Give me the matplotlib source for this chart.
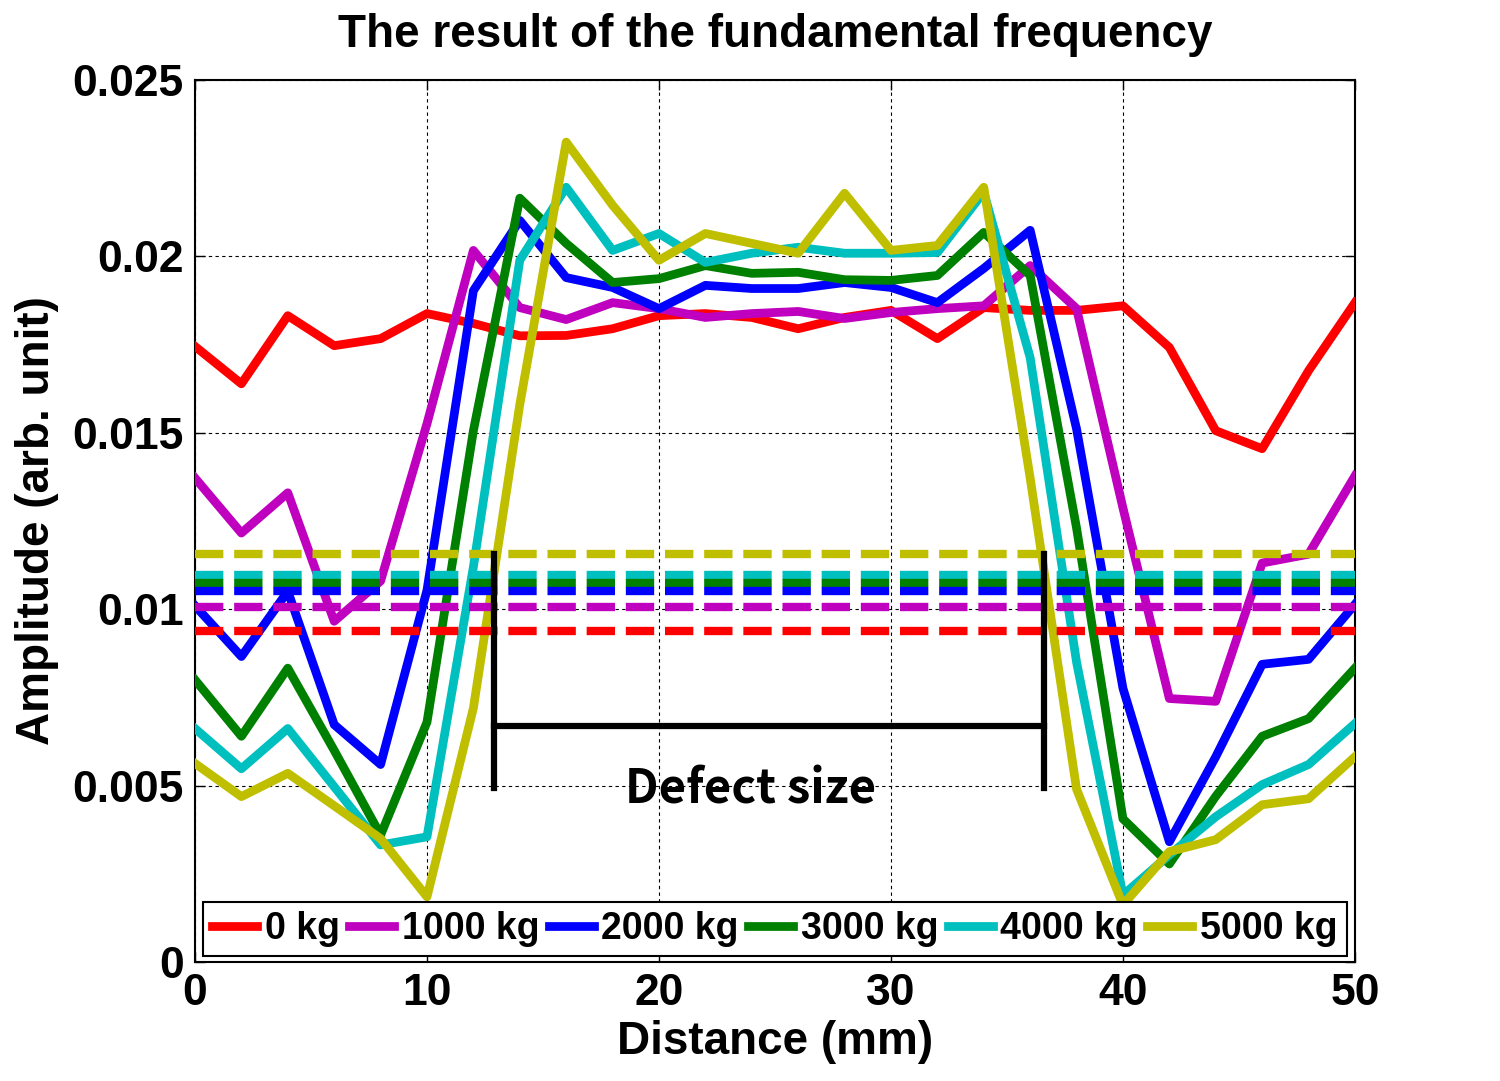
import numpy as np
import matplotlib.pyplot as plt

# distance positions (mm)
distance = np.arange(0, 51, 2)

labels = ['0 kg', '1000 kg', '2000 kg', '3000 kg', '4000 kg', '5000 kg']
colors = ['#ff0000', '#bf00bf', '#0000ff', '#008000', '#00bfbf', '#bfbf00']

amp_0kg = [0.01745, 0.01639, 0.01832, 0.01747, 0.01767, 0.01838, 0.0181, 0.01775, 0.01776,
           0.01795, 0.01832, 0.01838, 0.01827, 0.01795, 0.01827, 0.01847, 0.01767, 0.01855,
           0.01847, 0.01847, 0.0186, 0.01742, 0.01506, 0.01455, 0.01676, 0.01869]
amp_1000kg = [0.01372, 0.01216, 0.0133, 0.00966, 0.0108, 0.01526, 0.02017, 0.01855, 0.01821,
              0.01869, 0.01852, 0.01827, 0.01838, 0.01844, 0.01824, 0.01841, 0.01852, 0.0186,
              0.01974, 0.01852, 0.01287, 0.00747, 0.00739, 0.01131, 0.01156, 0.01378]
amp_2000kg = [0.0101, 0.00866, 0.01051, 0.00673, 0.0056, 0.01054, 0.01903, 0.02102, 0.0194,
              0.01912, 0.01852, 0.01918, 0.01909, 0.01909, 0.01926, 0.01912, 0.01869, 0.01966,
              0.02074, 0.01511, 0.00776, 0.00341, 0.00582, 0.00844, 0.00858, 0.01014]
amp_3000kg = [0.008, 0.0064, 0.00833, 0.006, 0.0036, 0.0068, 0.01506, 0.02165, 0.02037,
              0.01926, 0.01937, 0.01974, 0.01952, 0.01955, 0.01934, 0.01932, 0.01946, 0.02068,
              0.01946, 0.0123, 0.00406, 0.00278, 0.0047, 0.0064, 0.0069, 0.00833]
amp_4000kg = [0.00662, 0.00548, 0.00662, 0.00497, 0.00332, 0.00355, 0.0112, 0.01989, 0.02196,
              0.02017, 0.02065, 0.01983, 0.02009, 0.02026, 0.02009, 0.02009, 0.02011, 0.02182,
              0.01713, 0.0085, 0.0019, 0.00304, 0.00412, 0.00503, 0.0056, 0.00676]
amp_5000kg = [0.00563, 0.00469, 0.00535, 0.00443, 0.0035, 0.00185, 0.0072, 0.0158, 0.02324,
              0.02145, 0.01989, 0.02065, 0.02037, 0.02009, 0.02179, 0.02017, 0.02031, 0.02196,
              0.01372, 0.0049, 0.00162, 0.00313, 0.00347, 0.00446, 0.00463, 0.00582]

# threshold (dashed) levels for each load
thresholds = [0.00938, 0.01006, 0.01051, 0.01074, 0.01097, 0.01156]

# defect bracket
defect_left = 12.9
defect_right = 36.6
defect_top = 0.01158
defect_bottom = 0.00494
defect_bar = 0.00668

series = [amp_0kg, amp_1000kg, amp_2000kg, amp_3000kg, amp_4000kg, amp_5000kg]

plt.rcParams['font.family'] = ['Liberation Sans', 'DejaVu Sans']

fig = plt.figure(figsize=(15, 10.81), dpi=100)
ax = fig.add_axes([0.13, 0.11, 0.7733, 0.816])

for amp, c, lab in zip(series, colors, labels):
    ax.plot(distance, amp, color=c, lw=6.3, label=lab, zorder=3)

# dashed levels, drawn so the blue one sits on top of the close group
order = [0, 1, 5, 4, 3, 2]
for i in order:
    ax.plot([0, 50], [thresholds[i], thresholds[i]], color=colors[i], lw=6.0,
            dashes=(3.4, 1.3), dash_capstyle='butt', zorder=4)

# defect size bracket
ax.plot([defect_left, defect_left], [defect_bottom, defect_top], color='k', lw=4.5, zorder=5)
ax.plot([defect_right, defect_right], [defect_bottom, defect_top], color='k', lw=4.5, zorder=5)
ax.plot([defect_left, defect_right], [defect_bar, defect_bar], color='k', lw=4.5, zorder=5)
ax.text(23.95, 0.00489, 'Defect size', fontsize=34, fontweight='bold', ha='center', va='center',
        family=['Noto Sans CJK KR', 'DejaVu Sans'], zorder=6)

ax.set_xlim(0, 50)
ax.set_ylim(0, 0.025)
ax.set_xticks([0, 10, 20, 30, 40, 50])
ax.set_yticks([0, 0.005, 0.01, 0.015, 0.02, 0.025])
ax.set_yticklabels(['0', '0.005', '0.01', '0.015', '0.02', '0.025'])
ax.tick_params(direction='in', length=7, width=1, top=True, right=True, labelsize=32, pad=8)
for t in ax.get_xticklabels() + ax.get_yticklabels():
    t.set_fontweight('bold')
ax.grid(True, color='k', linestyle=(0, (3, 3)), linewidth=0.8)
for s in ax.spines.values():
    s.set_linewidth(1.5)

ax.set_xlabel('Distance (mm)', fontsize=33, fontweight='bold', labelpad=4)
ax.set_ylabel('Amplitude (arb. unit)', fontsize=33, fontweight='bold', labelpad=10)
ax.set_title('The result of the fundamental frequency', fontsize=33, fontweight='bold', pad=24)

leg = ax.legend(loc='lower center', ncol=6, prop={'weight': 'bold', 'size': 27},
                handlelength=1.2, handletextpad=0.2, columnspacing=0.25, borderpad=0.25,
                borderaxespad=0.15, fancybox=False, framealpha=1, edgecolor='k')
leg.get_frame().set_linewidth(1.5)

fig.savefig('out.png', dpi=100)
